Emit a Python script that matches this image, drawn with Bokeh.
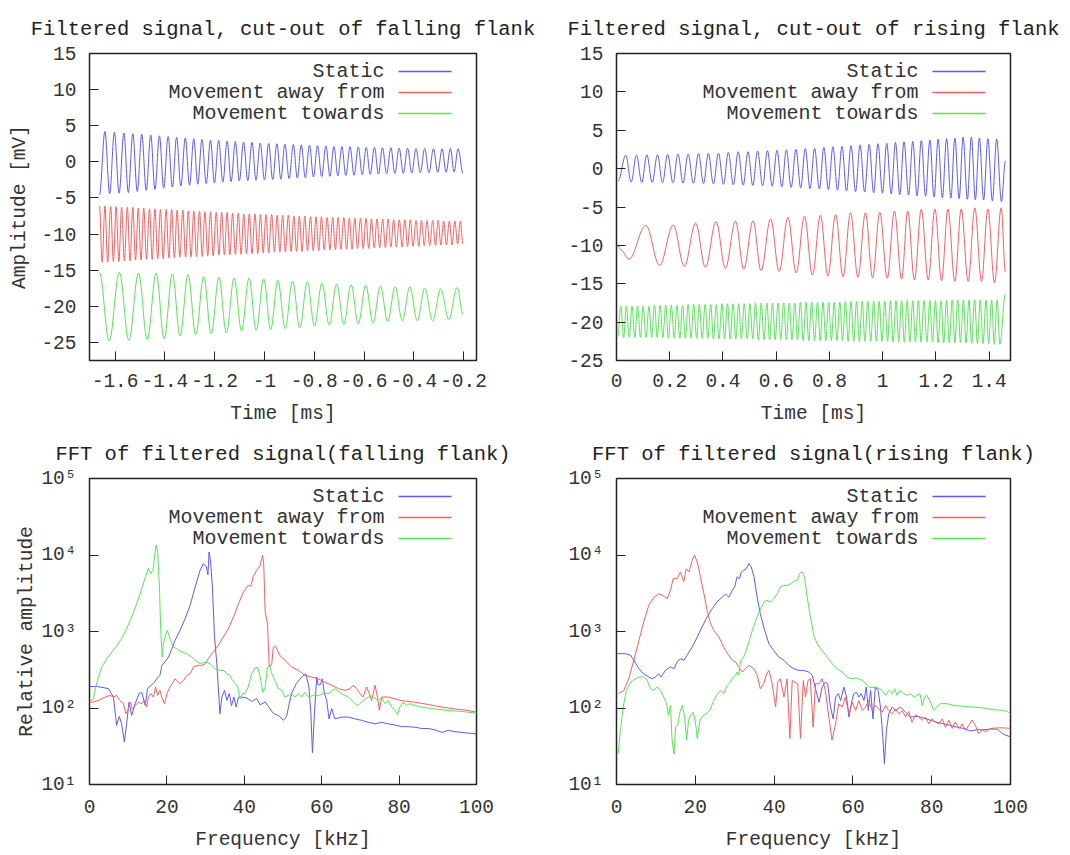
import math
from bokeh.plotting import figure
from bokeh.layouts import column, row
from bokeh.models import Label, FixedTicker, CustomJSTickFormatter, Range1d
from bokeh.embed import file_html
from bokeh.resources import INLINE

FONT = "Liberation Mono"
SERIES_NAMES = ["Static", "Movement away from", "Movement towards"]
SERIES_COLORS = ["#5a5aff", "#ff5c5c", "#52e852"]

# ---------------- time signals, falling flank (extrema) ----------------
fs_pk_t = [-1.641, -1.603, -1.565, -1.529, -1.493, -1.457, -1.422, -1.387, -1.353, -1.318,
           -1.284, -1.251, -1.217, -1.184, -1.150, -1.117, -1.084, -1.050, -1.017, -0.983,
           -0.950, -0.918, -0.884, -0.852, -0.819, -0.787, -0.753, -0.721, -0.689, -0.656,
           -0.623, -0.591, -0.558, -0.526, -0.492, -0.459, -0.425, -0.391, -0.356, -0.321,
           -0.286, -0.253, -0.222]
fs_pk_v = [4.2, 4.1, 4.0, 3.9, 3.8, 3.7, 3.6, 3.5, 3.4, 3.3, 3.2, 3.1, 3.0, 2.95, 2.9, 2.8, 2.75,
           2.7, 2.6, 2.55, 2.5, 2.45, 2.4, 2.35, 2.3, 2.25, 2.2, 2.15, 2.1, 2.1, 2.05, 2.0, 2.0,
           1.95, 1.95, 1.9, 1.9, 1.85, 1.85, 1.8, 1.8, 1.85, 1.8]
fs_tr_t = [-1.622, -1.584, -1.547, -1.511, -1.475, -1.440, -1.405, -1.370, -1.336, -1.301,
           -1.268, -1.234, -1.201, -1.167, -1.134, -1.101, -1.067, -1.034, -1.000, -0.967,
           -0.934, -0.901, -0.868, -0.836, -0.803, -0.770, -0.737, -0.705, -0.673, -0.640,
           -0.607, -0.575, -0.542, -0.509, -0.476, -0.442, -0.408, -0.374, -0.339, -0.304,
           -0.270, -0.238]
fs_tr_v = [-4.4, -4.35, -4.25, -4.1, -3.95, -3.8, -3.65, -3.5, -3.35, -3.25, -3.1, -3.0, -2.9,
           -2.8, -2.75, -2.65, -2.6, -2.55, -2.5, -2.45, -2.4, -2.3, -2.25, -2.2, -2.1, -2.05,
           -2.0, -1.95, -1.9, -1.85, -1.8, -1.75, -1.7, -1.65, -1.6, -1.6, -1.55, -1.5, -1.5,
           -1.45, -1.45, -1.4]
fs_ends_t = [-1.663, -0.202]
fs_ends_v = [-4.6, -1.6]

fa_pk_t = [-1.663, -1.641, -1.618, -1.596, -1.574, -1.551, -1.529, -1.507, -1.485, -1.462,
           -1.440, -1.418, -1.395, -1.373, -1.351, -1.328, -1.306, -1.284, -1.261, -1.239,
           -1.217, -1.194, -1.172, -1.150, -1.128, -1.105, -1.083, -1.061, -1.038, -1.016,
           -0.994, -0.971, -0.949, -0.927, -0.904, -0.882, -0.860, -0.838, -0.815, -0.793,
           -0.771, -0.748, -0.726, -0.704, -0.681, -0.659, -0.637, -0.614, -0.592, -0.570,
           -0.548, -0.525, -0.503, -0.481, -0.458, -0.436, -0.414, -0.391, -0.369, -0.347,
           -0.324, -0.302, -0.280, -0.257, -0.235, -0.213]
fa_pk_v = [-6.1, -6.1, -6.2, -6.2, -6.3, -6.3, -6.3, -6.4, -6.4, -6.5,
           -6.5, -6.6, -6.6, -6.6, -6.7, -6.7, -6.8, -6.8, -6.8, -6.9,
           -6.9, -7.0, -7.0, -7.0, -7.1, -7.1, -7.2, -7.2, -7.2, -7.3,
           -7.3, -7.3, -7.4, -7.4, -7.4, -7.5, -7.5, -7.5, -7.6, -7.6,
           -7.6, -7.7, -7.7, -7.7, -7.7, -7.8, -7.8, -7.8, -7.8, -7.9,
           -7.9, -7.9, -7.9, -8.0, -8.0, -8.0, -8.0, -8.1, -8.1, -8.1,
           -8.1, -8.1, -8.2, -8.2, -8.2, -8.2]
fa_tr_t = [-1.652, -1.630, -1.607, -1.585, -1.563, -1.540, -1.518, -1.496, -1.474, -1.451,
           -1.429, -1.407, -1.384, -1.362, -1.340, -1.317, -1.295, -1.273, -1.250, -1.228,
           -1.206, -1.183, -1.161, -1.139, -1.117, -1.094, -1.072, -1.050, -1.027, -1.005,
           -0.983, -0.960, -0.938, -0.916, -0.893, -0.871, -0.849, -0.827, -0.804, -0.782,
           -0.760, -0.737, -0.715, -0.693, -0.670, -0.648, -0.626, -0.603, -0.581, -0.559,
           -0.537, -0.514, -0.492, -0.470, -0.447, -0.425, -0.403, -0.380, -0.358, -0.336,
           -0.313, -0.291, -0.269, -0.246, -0.224, -0.202]
fa_tr_v = [-13.9, -13.9, -13.8, -13.8, -13.7, -13.7, -13.6, -13.6, -13.5, -13.5,
           -13.4, -13.4, -13.3, -13.3, -13.2, -13.2, -13.2, -13.1, -13.1, -13.0,
           -13.0, -12.9, -12.9, -12.9, -12.8, -12.8, -12.7, -12.7, -12.7, -12.6,
           -12.6, -12.5, -12.5, -12.5, -12.4, -12.4, -12.4, -12.3, -12.3, -12.3,
           -12.2, -12.2, -12.2, -12.1, -12.1, -12.1, -12.0, -12.0, -12.0, -11.9,
           -11.9, -11.9, -11.8, -11.8, -11.8, -11.7, -11.7, -11.7, -11.6, -11.6,
           -11.6, -11.5, -11.5, -11.5, -11.4, -11.4]
fa_ends_t = []
fa_ends_v = []

ft_pk_t = [-1.583, -1.506, -1.435, -1.370, -1.307, -1.244, -1.183, -1.122, -1.062, -1.003,
           -0.946, -0.887, -0.828, -0.769, -0.710, -0.652, -0.593, -0.534, -0.475, -0.416,
           -0.356, -0.292, -0.226]
ft_pk_v = [-15.3, -15.4, -15.4, -15.5, -15.6, -15.9, -16.0, -16.1, -16.1, -16.2, -16.4, -16.5,
           -16.6, -16.8, -16.9, -17.0, -17.1, -17.2, -17.3, -17.3, -17.5, -17.6, -17.4]
ft_tr_t = [-1.624, -1.545, -1.471, -1.403, -1.339, -1.276, -1.214, -1.153, -1.092, -1.033,
           -0.975, -0.917, -0.858, -0.799, -0.740, -0.681, -0.623, -0.564, -0.505, -0.446,
           -0.386, -0.324, -0.259]
ft_tr_v = [-24.8, -24.7, -24.6, -24.5, -24.1, -23.9, -23.8, -23.7, -23.4, -23.3, -23.2, -23.1,
           -23.0, -22.7, -22.6, -22.5, -22.4, -22.3, -22.1, -22.0, -22.0, -22.0, -21.8]
ft_ends_t = [-1.663, -0.202]
ft_ends_v = [-15.3, -21.1]

# ---------------- time signals, rising flank ----------------
rs_pk_t = [0.035, 0.075, 0.114, 0.154, 0.192, 0.231, 0.269, 0.308, 0.345, 0.383,
           0.420, 0.457, 0.494, 0.530, 0.567, 0.603, 0.638, 0.674, 0.709, 0.744,
           0.779, 0.813, 0.847, 0.881, 0.915, 0.949, 0.982, 1.015, 1.048, 1.080,
           1.113, 1.145, 1.177, 1.208, 1.240, 1.271, 1.302, 1.333, 1.363, 1.395, 1.428]
rs_pk_v = [1.75, 1.75, 1.8, 1.8, 1.85, 1.9, 1.9, 1.95, 2.0, 2.0, 2.1, 2.2, 2.2, 2.3, 2.35, 2.4,
           2.45, 2.5, 2.6, 2.65, 2.75, 2.85, 2.9, 3.0, 3.1, 3.15, 3.25, 3.3, 3.4, 3.5, 3.55,
           3.65, 3.75, 3.85, 3.9, 4.0, 4.1, 4.1, 4.0, 3.9, 3.85]
rs_tr_t = [0.055, 0.095, 0.134, 0.173, 0.212, 0.250, 0.289, 0.327, 0.364, 0.402,
           0.439, 0.476, 0.512, 0.549, 0.585, 0.621, 0.656, 0.692, 0.727, 0.762,
           0.796, 0.830, 0.864, 0.898, 0.932, 0.966, 0.999, 1.032, 1.064, 1.097,
           1.129, 1.161, 1.193, 1.224, 1.256, 1.287, 1.318, 1.348, 1.379, 1.412, 1.446]
rs_tr_v = [-1.75, -1.8, -1.8, -1.85, -1.85, -1.9, -1.9, -1.95, -2.0, -2.05, -2.1, -2.15, -2.2,
           -2.25, -2.3, -2.4, -2.45, -2.5, -2.6, -2.65, -2.75, -2.8, -2.9, -3.0, -3.05, -3.15,
           -3.2, -3.3, -3.4, -3.45, -3.55, -3.6, -3.7, -3.8, -3.85, -3.9, -4.0, -4.05, -4.1,
           -4.2, -4.3]
rs_ends_t = [0.006, 1.461]
rs_ends_v = [-1.6, 1.0]

ra_pk_t = [0.110, 0.213, 0.297, 0.374, 0.447, 0.513, 0.579, 0.644, 0.706, 0.766, 0.823, 0.879,
           0.935, 0.989, 1.044, 1.094, 1.145, 1.196, 1.245, 1.295, 1.346, 1.395, 1.445]
ra_pk_v = [-7.4, -7.35, -7.1, -6.9, -6.85, -6.8, -6.55, -6.35, -6.2, -6.1, -6.0, -5.75, -5.75,
           -5.7, -5.55, -5.55, -5.3, -5.25, -5.25, -5.25, -5.1, -5.25, -5.1]
ra_tr_t = [0.047, 0.162, 0.255, 0.334, 0.409, 0.478, 0.543, 0.611, 0.675, 0.736, 0.794, 0.851,
           0.907, 0.962, 1.017, 1.071, 1.119, 1.171, 1.221, 1.271, 1.321, 1.371, 1.420]
ra_tr_v = [-11.8, -12.6, -12.75, -12.85, -13.0, -13.1, -13.3, -13.4, -13.6, -13.85, -14.0,
           -14.1, -14.15, -14.2, -14.3, -14.4, -14.5, -14.5, -14.6, -14.7, -14.7, -14.7, -14.9]
ra_ends_t = [0.005, 0.016, 1.461]
ra_ends_v = [-10.0, -10.6, -13.5]

rt_pk_t = [0.016, 0.037, 0.058, 0.079, 0.100, 0.122, 0.143, 0.164, 0.185, 0.206,
           0.227, 0.248, 0.269, 0.290, 0.311, 0.333, 0.354, 0.375, 0.396, 0.417,
           0.438, 0.459, 0.480, 0.501, 0.522, 0.544, 0.565, 0.586, 0.607, 0.628,
           0.649, 0.670, 0.691, 0.712, 0.733, 0.755, 0.776, 0.797, 0.818, 0.839,
           0.860, 0.881, 0.902, 0.923, 0.944, 0.966, 0.987, 1.008, 1.029, 1.050,
           1.071, 1.092, 1.113, 1.134, 1.155, 1.177, 1.198, 1.219, 1.240, 1.261,
           1.282, 1.303, 1.324, 1.345, 1.366, 1.388, 1.409, 1.430]
rt_pk_v = [-17.9, -17.9, -17.9, -17.9, -17.9, -17.9, -17.8, -17.8, -17.8, -17.8,
           -17.8, -17.8, -17.7, -17.7, -17.7, -17.7, -17.7, -17.7, -17.6, -17.6,
           -17.6, -17.6, -17.6, -17.6, -17.5, -17.5, -17.5, -17.5, -17.5, -17.5,
           -17.5, -17.5, -17.4, -17.4, -17.4, -17.4, -17.4, -17.4, -17.4, -17.4,
           -17.3, -17.3, -17.3, -17.3, -17.3, -17.3, -17.3, -17.3, -17.2, -17.2,
           -17.2, -17.2, -17.2, -17.2, -17.2, -17.2, -17.2, -17.2, -17.1, -17.1,
           -17.1, -17.1, -17.1, -17.1, -17.1, -17.1, -17.1, -17.1]
rt_tr_t = [0.027, 0.048, 0.069, 0.090, 0.111, 0.132, 0.153, 0.174, 0.195, 0.217,
           0.238, 0.259, 0.280, 0.301, 0.322, 0.343, 0.364, 0.385, 0.406, 0.427,
           0.448, 0.469, 0.491, 0.512, 0.533, 0.554, 0.575, 0.596, 0.617, 0.638,
           0.659, 0.680, 0.701, 0.722, 0.744, 0.765, 0.786, 0.807, 0.828, 0.849,
           0.870, 0.891, 0.912, 0.933, 0.955, 0.976, 0.997, 1.018, 1.039, 1.060,
           1.081, 1.102, 1.123, 1.144, 1.166, 1.187, 1.208, 1.229, 1.250, 1.271,
           1.292, 1.313, 1.334, 1.356, 1.377, 1.398, 1.419, 1.440]
rt_tr_v = [-22.0, -22.0, -22.0, -22.0, -22.0, -22.0, -22.0, -22.0, -22.1, -22.1,
           -22.1, -22.1, -22.1, -22.1, -22.1, -22.1, -22.2, -22.2, -22.2, -22.2,
           -22.2, -22.2, -22.2, -22.2, -22.3, -22.3, -22.3, -22.3, -22.3, -22.3,
           -22.3, -22.3, -22.4, -22.4, -22.4, -22.4, -22.4, -22.4, -22.4, -22.4,
           -22.5, -22.5, -22.5, -22.5, -22.5, -22.5, -22.5, -22.5, -22.6, -22.6,
           -22.6, -22.6, -22.6, -22.6, -22.6, -22.6, -22.7, -22.7, -22.7, -22.7,
           -22.7, -22.7, -22.8, -22.8, -22.8, -22.8, -22.9, -22.9]
rt_ends_t = [0.005, 1.461]
rt_ends_v = [-21.9, -16.3]

# ---------------- FFT, falling flank ----------------
ff_static_f = [0, 2, 3.5, 4.9, 6.2, 7, 7.7, 8.3, 9, 9.6, 10.2, 10.9, 11.8, 12.8, 13.5, 14.4, 15,
               15.9, 16.8, 17.4, 18.2, 18.7, 19.5, 20.4, 21.3, 22.1, 23.4, 24.7, 26, 27.3, 28.6,
               29.4, 30.2, 30.6, 30.9, 31.3, 31.8, 32.3, 32.9, 33.7, 34.2, 34.9, 35.5, 36.1,
               36.7, 37.3, 37.9, 38.5, 39.3, 40.6, 41.9, 43.2, 44.1, 45.4, 46.2, 47.5, 48.8,
               50.1, 50.9, 52.2, 53.5, 54.8, 55.9, 56.7, 57.2, 57.6, 58.1, 58.7, 59.1, 59.6,
               60.2, 60.7, 61.3, 61.9, 62.6, 63.4, 65.1, 66.9, 68.6, 70.3, 72, 73.8, 75.5,
               77.2, 78.9, 80.6, 82.4, 84.1, 85.8, 87.5, 89.2, 91, 92.7, 94.4, 96.1, 97.8, 100]
ff_static_a = [191, 191, 185, 179, 139, 59, 78, 62, 36, 62, 119, 80, 114, 154, 161, 108, 179,
               198, 218, 241, 267, 361, 399, 463, 596, 766, 1035, 1471, 2200, 3820, 6310, 7720,
               6980, 5500, 10960, 8110, 3460, 848, 379, 84, 139, 170, 126, 155, 107, 139, 103,
               139, 139, 135, 122, 133, 110, 120, 105, 85, 80, 69, 77, 155, 210, 254, 280, 188,
               85, 26, 80, 254, 200, 200, 241, 155, 126, 72, 98, 72, 76, 76, 72, 69, 65, 62, 65,
               62, 60, 57, 57, 56, 54, 54, 52, 48, 51, 49, 48, 47, 46]
ff_away_f = [0, 0.6, 2.3, 4, 5.3, 6.2, 7, 7.9, 8.8, 9.4, 9.9, 10.5, 11.1, 11.8, 12.7, 13.5, 14.2,
             14.8, 15.2, 15.9, 16.5, 17.1, 17.6, 18.2, 18.8, 19.4, 20, 20.8, 22.1, 23.4, 24.3,
             25.1, 26, 26.9, 28.1, 29, 29.9, 30.7, 32, 33.3, 34.6, 35.9, 37.2, 38.5, 39.8, 41,
             41.7, 42.3, 43.2, 44.1, 44.7, 45, 45.4, 46, 46.4, 46.6, 47.1, 47.5, 48.1, 49.2,
             50.5, 52.2, 54, 55.7, 57.4, 59.1, 60.8, 62.6, 64.3, 66, 67.3, 68.2, 69, 69.9,
             70.7, 71.6, 72.3, 72.9, 73.8, 74.4, 74.9, 75.5, 77.2, 78.9, 80.6, 84.1, 87.5, 91,
             94.4, 97.8, 100]
ff_away_a = [119, 119, 125, 139, 146, 139, 146, 125, 114, 84, 93, 119, 97, 108, 119, 114, 125,
             103, 139, 154, 139, 188, 146, 170, 132, 114, 154, 188, 241, 208, 229, 267, 280, 345,
             361, 361, 379, 441, 540, 661, 848, 1090, 1550, 2300, 3300, 4000, 3900, 5200, 6300,
             7300, 9900, 8100, 1800, 1260, 379, 345, 379, 624, 640, 485, 420, 345, 310, 267, 254,
             241, 218, 198, 179, 170, 179, 198, 179, 154, 139, 188, 154, 125, 198, 139, 93, 139,
             139, 132, 125, 119, 111, 103, 97, 93, 88]
ff_towards_f = [0, 1, 1.6, 2.3, 3.2, 4.5, 5.8, 7.1, 8.3, 9.6, 10.9, 12.2, 13.5, 14.5, 15.2, 15.8,
                16.4, 16.8, 17.2, 17.6, 18.1, 18.4, 18.8, 19.1, 19.7, 20.1, 20.8, 21.7, 22.5,
                23.8, 25.1, 26.4, 27.3, 28.6, 29.9, 31.2, 32.4, 33.7, 34.6, 35.5, 36.3, 36.7,
                37.6, 38.3, 38.9, 39.5, 40.2, 41, 41.9, 42.8, 43.5, 44.1, 44.8, 45.4, 46, 46.5,
                47.1, 47.9, 48.8, 49.7, 50.5, 51.4, 52.2, 53.1, 54, 54.8, 55.7, 56.5, 57.8, 59.1,
                60.4, 61.7, 63.4, 65.1, 66.9, 68.6, 69.4, 70.7, 72, 73.3, 74.6, 75.5, 76.3, 77.2,
                78.1, 78.9, 79.6, 80.2, 81.1, 81.9, 82.8, 84.1, 85.8, 89.2, 92.7, 96.1, 100]
ff_towards_a = [119, 132, 188, 254, 345, 441, 540, 661, 806, 1090, 1550, 2300, 3630, 5200, 6700,
                5700, 6300, 9400, 13500, 11400, 3460, 1035, 463, 690, 930, 1035, 806, 624, 596,
                540, 514, 463, 420, 379, 398, 379, 326, 310, 310, 280, 267, 241, 208, 188, 132,
                154, 154, 188, 280, 337, 337, 254, 161, 188, 345, 361, 280, 229, 179, 170, 139,
                146, 154, 139, 154, 139, 161, 139, 146, 146, 154, 154, 179, 154, 139, 114, 108,
                125, 139, 139, 125, 139, 114, 125, 103, 93, 82, 103, 119, 108, 114, 108, 103, 97,
                93, 90, 86]

# ---------------- FFT, rising flank ----------------
fr_static_f = [0.2, 2.3, 3.6, 4.4, 5.7, 6.9, 8.2, 9.1, 9.9, 10.7, 11.3, 12.4, 13.7, 14.6, 15.4,
               16.2, 17.1, 17.9, 19.2, 20.5, 21.7, 23, 24.3, 25.5, 26.8, 27.7, 28.5, 29.4, 30,
               30.6, 31.2, 31.7, 32.3, 32.9, 33.6, 34.2, 34.9, 35.7, 36.5, 37.6, 38.7, 39.9, 41.2,
               42.5, 43.7, 45, 46.3, 47.5, 48.8, 49.7, 50.5, 51.4, 52.2, 53, 53.6, 54.3, 55,
               55.6, 56.3, 56.9, 57.7, 58.4, 59, 59.6, 60.2, 60.9, 61.5, 62.1, 62.8, 63.4, 63.9,
               64.5, 65.1, 65.7, 66.4, 67, 67.6, 68, 68.5, 69.1, 70, 70.8, 72.1, 73.4, 74.6,
               76.3, 78, 79.7, 81.4, 83.1, 84.8, 86.5, 88.2, 89.8, 91.5, 93.2, 94.9, 96.6, 98.3,
               100]
fr_static_a = [513, 513, 488, 420, 326, 280, 254, 241, 254, 280, 254, 310, 345, 326, 399, 441,
               420, 488, 624, 848, 1140, 1550, 1990, 2440, 2800, 3100, 2800, 3460, 3820, 5200,
               4900, 6000, 6300, 6600, 7720, 6980, 5200, 2800, 1710, 1035, 690, 566, 463, 420,
               361, 326, 310, 310, 295, 267, 179, 119, 188, 218, 208, 103, 72, 139, 154, 125,
               188, 139, 76, 114, 154, 161, 139, 154, 125, 188, 93, 170, 72, 188, 170, 103, 41,
               18.6, 50, 84, 103, 93, 103, 88, 76, 78, 74, 69, 65, 62, 59, 56, 54, 50, 52, 52,
               53, 53, 45, 42]
fr_away_f = [0.5, 1.9, 3.1, 4.4, 5.7, 6.9, 8.2, 9.5, 10.7, 11.6, 12.9, 13.7, 14.4, 15.4, 16.2,
             17.1, 17.7, 18.4, 19.2, 19.8, 20.5, 21.3, 22.2, 23, 23.9, 24.7, 26, 27.2, 28.5,
             29.4, 30.2, 31, 31.9, 32.7, 33.6, 34.9, 35.7, 36.5, 37.4, 38.1, 38.7, 39.5, 40.4,
             40.9, 41.6, 42.5, 43.3, 44, 44.6, 45.3, 46, 46.7, 47.4, 48, 48.6, 49.2, 49.9, 50.5,
             51.4, 52.2, 53, 53.9, 54.7, 55.6, 56.4, 57.3, 58.1, 59, 59.8, 60.7, 61.5, 62.4,
             63.2, 64, 64.9, 65.7, 66.6, 67.4, 68.3, 69.1, 70, 70.8, 71.7, 72.5, 73.4, 74.2, 75,
             75.9, 76.7, 77.6, 78.4, 79.3, 80.1, 81, 81.8, 82.7, 83.5, 84.4, 85.2, 86, 86.9,
             87.7, 88.6, 89.4, 90.3, 91.1, 91.9, 92.8, 93.7, 94.9, 96.6, 98.3, 100]
fr_away_a = [154, 170, 241, 420, 766, 1330, 2200, 2800, 3100, 2990, 2680, 3460, 4900, 4900,
             6000, 4500, 6600, 6000, 8500, 9950, 8100, 5200, 3100, 1890, 1260, 1035, 848, 624,
             488, 420, 399, 345, 295, 326, 361, 326, 267, 179, 208, 280, 310, 208, 103, 218, 241,
             139, 241, 40, 229, 218, 208, 40, 229, 139, 229, 241, 56, 208, 208, 241, 170, 76, 38,
             62, 114, 103, 139, 84, 119, 93, 125, 93, 103, 125, 93, 108, 97, 88, 108, 93, 84, 97,
             84, 93, 76, 90, 65, 81, 76, 69, 76, 62, 72, 65, 62, 72, 56, 69, 54, 66, 54, 62, 51,
             59, 70, 59, 46, 52, 49, 54, 55, 55, 54]
fr_towards_f = [0.4, 1, 1.7, 2.5, 3.6, 4.8, 5.9, 6.9, 7.8, 8.6, 9.5, 10.3, 11.2, 12, 12.7, 13.2,
                13.7, 14.1, 14.6, 15, 15.6, 16.1, 16.7, 17.3, 17.8, 18.3, 18.8, 19.5, 20.1, 20.5,
                21.2, 22, 22.8, 23.7, 24.5, 25.4, 26.4, 27.2, 28.1, 28.9, 29.6, 30.2, 30.6, 31,
                31.5, 32.3, 33.2, 34.2, 35.3, 36.4, 37.4, 38.2, 39.1, 39.9, 40.8, 41.6, 42.5,
                43.3, 44.2, 45, 45.9, 46.5, 47.1, 47.7, 48.4, 49.2, 50.1, 50.9, 52.2, 53.5, 54.7,
                56, 57.3, 58.5, 59.8, 60.7, 61.5, 62.4, 63.2, 64, 64.9, 65.7, 66.6, 67.4, 68.3,
                69.1, 70, 70.6, 71.2, 71.9, 72.9, 73.8, 74.6, 75.5, 76.3, 77, 77.6, 78.2, 78.8,
                79.7, 80.5, 81.4, 82.2, 83.9, 85.6, 88.2, 90.7, 93.2, 95.8, 98.3, 100]
fr_towards_a = [25, 51, 103, 170, 218, 241, 254, 254, 229, 179, 170, 188, 170, 139, 114, 80, 108,
                38, 25, 56, 62, 88, 108, 76, 38, 69, 80, 88, 62, 40, 69, 80, 84, 93, 119, 146,
                170, 154, 198, 218, 254, 267, 295, 267, 420, 463, 624, 930, 1390, 1890, 2440,
                2560, 2440, 2680, 3100, 3820, 4000, 4000, 4200, 4500, 4700, 5800, 6000, 5200,
                2800, 1550, 890, 690, 566, 463, 379, 326, 295, 254, 241, 247, 241, 229, 208, 188,
                185, 188, 179, 170, 146, 170, 154, 179, 146, 170, 154, 146, 154, 139, 146, 154,
                108, 139, 146, 119, 93, 103, 114, 114, 108, 105, 103, 100, 95, 93, 86]

# ---------------- ticks ----------------
fall_time_ticks = [-1.6, -1.4, -1.2, -1.0, -0.8, -0.6, -0.4, -0.2]
rise_time_ticks = [0, 0.2, 0.4, 0.6, 0.8, 1.0, 1.2, 1.4]
fall_amp_ticks = [-25, -20, -15, -10, -5, 0, 5, 10, 15]
rise_amp_ticks = [-25, -20, -15, -10, -5, 0, 5, 10, 15]
freq_ticks = [0, 20, 40, 60, 80, 100]
fft_ticks = [10, 100, 1000, 10000, 100000]

LIN_FMT = "return String(Math.round(tick*10)/10);"
LOG_FMT = ("const s={'0':'\u2070','1':'\u00b9','2':'\u00b2','3':'\u00b3','4':'\u2074','5':'\u2075'};"
           "const e=Math.round(Math.log10(tick)); return '10'+(s[String(e)]||'');")


def make_fig(width, height, bl, br, bt, bb, xr, yr, log, title, xlabel, ylabel,
             xticks, yticks, title_offset, ylab_standoff, xlab_std, xtick_std):
    p = figure(width=width, height=height, x_range=Range1d(*xr), y_range=Range1d(*yr),
               y_axis_type="log" if log else "linear", output_backend="svg",
               toolbar_location=None, min_border_left=bl, min_border_right=br,
               min_border_top=bt, min_border_bottom=bb, title=title)
    p.background_fill_color = "white"
    p.border_fill_color = "white"
    p.outline_line_color = "#222222"
    p.outline_line_width = 1.5
    p.xgrid.visible = False
    p.ygrid.visible = False
    p.title.text_font = FONT
    p.title.text_font_size = "20.5px"
    p.title.text_font_style = "normal"
    p.title.text_color = "#222222"
    p.title.align = "center"
    p.title.offset = title_offset
    p.title.standoff = 26
    for ax in (p.xaxis[0], p.yaxis[0]):
        ax.axis_line_color = None
        ax.major_tick_in = 9
        ax.major_tick_out = 0
        ax.major_tick_line_color = "#222222"
        ax.major_tick_line_width = 1
        ax.minor_tick_line_color = None
        ax.major_label_text_font = FONT
        ax.major_label_text_font_size = "19.5px"
        ax.major_label_text_color = "#333333"
        ax.axis_label_text_font = FONT
        ax.axis_label_text_font_size = "19.5px"
        ax.axis_label_text_font_style = "normal"
        ax.axis_label_text_color = "#333333"
    p.xaxis[0].ticker = FixedTicker(ticks=xticks)
    p.xaxis[0].formatter = CustomJSTickFormatter(code=LIN_FMT)
    p.xaxis[0].major_label_standoff = xtick_std
    p.xaxis[0].axis_label = xlabel
    p.xaxis[0].axis_label_standoff = xlab_std
    p.yaxis[0].ticker = FixedTicker(ticks=yticks)
    p.yaxis[0].formatter = CustomJSTickFormatter(code=LOG_FMT if log else LIN_FMT)
    p.yaxis[0].major_label_standoff = 13
    if ylabel:
        p.yaxis[0].axis_label = ylabel
        p.yaxis[0].axis_label_standoff = ylab_standoff
    return p


def add_legend(p, xr, yr, log, fw, fh):
    # legend placed by pixel offsets inside the frame (text right-aligned, sample on the right)
    def xd(px):
        return xr[0] + (xr[1] - xr[0]) * px / fw

    def yd(py):
        if log:
            a, b = math.log10(yr[0]), math.log10(yr[1])
            return 10 ** (b - (b - a) * py / fh)
        return yr[1] - (yr[1] - yr[0]) * py / fh

    for i, (name, color) in enumerate(zip(SERIES_NAMES, SERIES_COLORS)):
        py = 18 + 21 * i
        p.add_layout(Label(x=xd(fw - 92), y=yd(py), text=name, text_align="right",
                           text_baseline="middle", text_font=FONT, text_font_size="20px",
                           text_color="#333333"))
        p.segment(x0=[xd(fw - 78)], y0=[yd(py)], x1=[xd(fw - 25)], y1=[yd(py)],
                  line_color=color, line_width=1.5)


def draw_wave(p, pk_t, pk_v, tr_t, tr_v, ends_t, ends_v, color):
    pts = sorted(list(zip(pk_t, pk_v)) + list(zip(tr_t, tr_v)) + list(zip(ends_t, ends_v)))
    x0, y0, x1, y1, cx0, cy0, cx1, cy1 = [], [], [], [], [], [], [], []
    for (ta, va), (tb, vb) in zip(pts[:-1], pts[1:]):
        d = (tb - ta) * 0.3642
        x0.append(ta); y0.append(va); x1.append(tb); y1.append(vb)
        cx0.append(ta + d); cy0.append(va); cx1.append(tb - d); cy1.append(vb)
    p.bezier(x0=x0, y0=y0, x1=x1, y1=y1, cx0=cx0, cy0=cy0, cx1=cx1, cy1=cy1,
             line_color=color, line_width=1)


# layout geometry
LW, RW = 548, 522
TH, BH = 427, 428
L_BL, L_BR = 89, 72
R_BL, R_BR = 68, 60
T_BT, T_BB = 53, 67
B_BT, B_BB = 51, 71

xr1, yr1 = (-1.703, -0.148), (-27.5, 15)
p1 = make_fig(LW, TH, L_BL, L_BR, T_BT, T_BB, xr1, yr1, False,
              "Filtered signal, cut-out of falling flank", "Time [ms]", "Amplitude [mV]",
              fall_time_ticks, fall_amp_ticks, 7, 7, 13, 13)
draw_wave(p1, fs_pk_t, fs_pk_v, fs_tr_t, fs_tr_v, fs_ends_t, fs_ends_v, SERIES_COLORS[0])
draw_wave(p1, fa_pk_t, fa_pk_v, fa_tr_t, fa_tr_v, fa_ends_t, fa_ends_v, SERIES_COLORS[1])
draw_wave(p1, ft_pk_t, ft_pk_v, ft_tr_t, ft_tr_v, ft_ends_t, ft_ends_v, SERIES_COLORS[2])
add_legend(p1, xr1, yr1, False, LW - L_BL - L_BR, TH - T_BT - T_BB)

xr2, yr2 = (0, 1.48), (-25, 15)
p2 = make_fig(RW, TH, R_BL, R_BR, T_BT, T_BB, xr2, yr2, False,
              "Filtered signal, cut-out of rising flank", "Time [ms]", None,
              rise_time_ticks, rise_amp_ticks, 3, 7, 13, 13)
draw_wave(p2, rs_pk_t, rs_pk_v, rs_tr_t, rs_tr_v, rs_ends_t, rs_ends_v, SERIES_COLORS[0])
draw_wave(p2, ra_pk_t, ra_pk_v, ra_tr_t, ra_tr_v, ra_ends_t, ra_ends_v, SERIES_COLORS[1])
draw_wave(p2, rt_pk_t, rt_pk_v, rt_tr_t, rt_tr_v, rt_ends_t, rt_ends_v, SERIES_COLORS[2])
add_legend(p2, xr2, yr2, False, RW - R_BL - R_BR, TH - T_BT - T_BB)

xr3, yr3 = (0, 100), (10, 100000)
p3 = make_fig(LW, BH, L_BL, L_BR, B_BT, B_BB, xr3, yr3, True,
              "FFT of filtered signal(falling flank)", "Frequency [kHz]", "Relative amplitude",
              freq_ticks, fft_ticks, 6, 0, 13, 15)
p3.line(ff_static_f, ff_static_a, line_color=SERIES_COLORS[0], line_width=1)
p3.line(ff_away_f, ff_away_a, line_color=SERIES_COLORS[1], line_width=1)
p3.line(ff_towards_f, ff_towards_a, line_color=SERIES_COLORS[2], line_width=1)
add_legend(p3, xr3, yr3, True, LW - L_BL - L_BR, BH - B_BT - B_BB)

xr4, yr4 = (0, 100), (10, 100000)
p4 = make_fig(RW, BH, R_BL, R_BR, B_BT, B_BB, xr4, yr4, True,
              "FFT of filtered signal(rising flank)", "Frequency [kHz]", None,
              freq_ticks, fft_ticks, 0, 0, 13, 15)
p4.line(fr_static_f, fr_static_a, line_color=SERIES_COLORS[0], line_width=1)
p4.line(fr_away_f, fr_away_a, line_color=SERIES_COLORS[1], line_width=1)
p4.line(fr_towards_f, fr_towards_a, line_color=SERIES_COLORS[2], line_width=1)
add_legend(p4, xr4, yr4, True, RW - R_BL - R_BR, BH - B_BT - B_BB)

layout = column(row(p1, p2), row(p3, p4))
open("out.html", "w").write(file_html(layout, INLINE))
